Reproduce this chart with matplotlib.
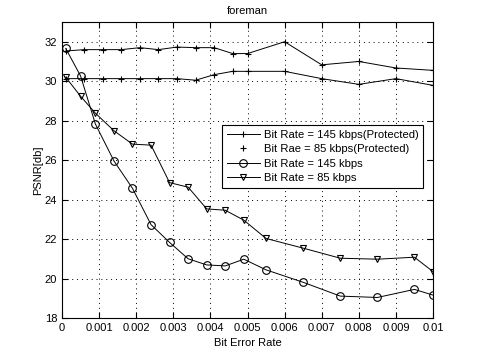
import matplotlib
matplotlib.use("Agg")
import matplotlib.pyplot as plt
from matplotlib.lines import Line2D

plt.rcParams['font.family'] = ['Liberation Sans', 'DejaVu Sans']

# Data
ber_prot = [0.0001, 0.0006, 0.0011, 0.0016, 0.0021, 0.0026, 0.0031, 0.0036,
            0.0041, 0.0046, 0.0050, 0.0060, 0.0070, 0.0080, 0.0090, 0.0100]
psnr_145_prot = [31.53, 31.6, 31.6, 31.6, 31.7, 31.6, 31.73, 31.7,
                 31.7, 31.4, 31.4, 32.0, 30.83, 31.0, 30.67, 30.55]
psnr_85_prot = [30.13, 30.13, 30.13, 30.13, 30.13, 30.13, 30.13, 30.05,
                30.33, 30.5, 30.5, 30.5, 30.13, 29.84, 30.13, 29.79]

ber = [0.0001, 0.0005, 0.0009, 0.0014, 0.0019, 0.0024, 0.0029, 0.0034, 0.0039,
       0.0044, 0.0049, 0.0055, 0.0065, 0.0075, 0.0085, 0.0095, 0.0100]
psnr_145 = [31.66, 30.27, 27.83, 25.96, 24.57, 22.73, 21.83, 21.0, 20.69,
            20.64, 20.98, 20.44, 19.81, 19.11, 19.04, 19.45, 19.16]
psnr_85 = [30.2, 29.24, 28.38, 27.49, 26.81, 26.76, 24.86, 24.63, 23.53,
           23.46, 22.96, 22.03, 21.54, 21.03, 20.98, 21.08, 20.35]

labels = ["Bit Rate = 145 kbps(Protected)", "Bit Rae = 85 kbps(Protected)",
          "Bit Rate = 145 kbps", "Bit Rate = 85 kbps"]
xticks = [0, 0.001, 0.002, 0.003, 0.004, 0.005, 0.006, 0.007, 0.008, 0.009, 0.01]
xticklabels = ["0", "0.001", "0.002", "0.003", "0.004", "0.005", "0.006",
               "0.007", "0.008", "0.009", "0.01"]
yticks = [18, 20, 22, 24, 26, 28, 30, 32]

fig = plt.figure(figsize=(4.78, 3.57), dpi=100)
ax = fig.add_axes([62/478, 1-318/357, (433-62)/478, (318-22)/357])

lw = 0.7
ax.plot(ber_prot, psnr_145_prot, color='k', lw=lw, marker='+', ms=4, mew=0.8)
ax.plot(ber_prot, psnr_85_prot, color='k', lw=lw, marker='+', ms=4, mew=0.8)
ax.plot(ber, psnr_145, color='k', lw=lw, marker='o', ms=5.5, mfc='none', mew=0.8)
ax.plot(ber, psnr_85, color='k', lw=lw, marker='v', ms=5, mfc='none', mew=0.8)

handles = [
    Line2D([], [], color='k', lw=lw, marker='+', ms=4, mew=0.8),
    Line2D([], [], color='k', lw=0, marker='+', ms=4, mew=0.8),
    Line2D([], [], color='k', lw=lw, marker='o', ms=5.5, mfc='none', mew=0.8),
    Line2D([], [], color='k', lw=lw, marker='v', ms=5, mfc='none', mew=0.8),
]
leg = ax.legend(handles, labels, loc='upper left',
                bbox_to_anchor=((222-62)/371, 1-(125-22)/296),
                fontsize=8.1, frameon=True, fancybox=False, edgecolor='k',
                framealpha=1, handlelength=3.0, borderpad=0.4,
                labelspacing=0.4, handletextpad=0.3, borderaxespad=0)
leg.get_frame().set_linewidth(0.8)

ax.set_xlim(0, 0.01)
ax.set_ylim(18, 33)
ax.set_xticks(xticks)
ax.set_xticklabels(xticklabels)
ax.set_yticks(yticks)
ax.tick_params(direction='in', top=True, right=True, labelsize=8, length=4, width=0.8)
ax.grid(True, linestyle=(0, (1, 4)), color='k', linewidth=0.7)
for s in ax.spines.values():
    s.set_linewidth(0.8)

ax.set_title("foreman", fontsize=8)
ax.set_xlabel("Bit Error Rate", fontsize=8)
ax.set_ylabel("PSNR[db]", fontsize=8, labelpad=1)

fig.savefig("out.png", dpi=100)
